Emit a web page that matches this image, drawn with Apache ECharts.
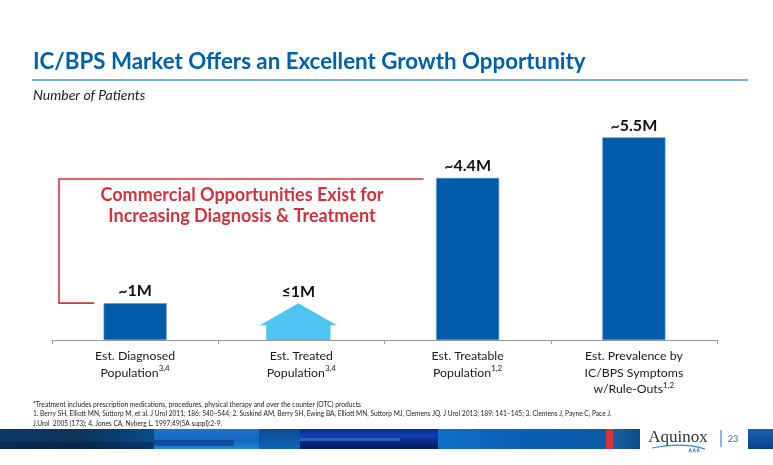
<!DOCTYPE html>
<html><head><meta charset="utf-8">
<script src="https://cdn.jsdelivr.net/npm/echarts@6/dist/echarts.min.js"></script>
<style>html,body{margin:0;padding:0;background:#fff}#c{width:773px;height:465px}</style>
</head><body><div id="c"></div>
<script>
const categories = ['Est. Diagnosed\nPopulation', 'Est. Treated\nPopulation', 'Est. Treatable\nPopulation', 'Est. Prevalence by\nIC/BPS Symptoms\nw/Rule-Outs'];
const superscripts = ['3,4', '3,4', '1,2', '1,2'];
const barValues = [1, null, 4.4, 5.5];
const arrowValues = [null, 1, null, null];
const valueLabels = ['~1M', '≤1M', '~4.4M', '~5.5M'];
const footnotes = [
  '*Treatment includes prescription medications, procedures, physical therapy and over the counter (OTC) products',
  '1. Berry SH, Elliott MN, Suttorp M, et al. J Urol 2011; 186: 540\u2013544; 2. Suskind AM, Berry SH, Ewing BA, Elliott MN, Suttorp MJ, Clemens JQ. J Urol 2013; 189: 141\u2013145; 3. Clemens J, Payne C, Pace J.',
  'J.Urol  2005 (173); 4. Jones CA, Nyberg L. 1997;49(5A suppl):2-9.'
];

const FONT = 'Lato, "Open Sans", sans-serif';
const LABEL_FONT = 'bold 16px ' + FONT;
const chart = echarts.init(document.getElementById('c'), null, {renderer: 'canvas'});

const option = {
  animation: false,
  backgroundColor: '#fff',
  grid: {left: 52, right: 56, top: 119, bottom: 125, containLabel: false},
  xAxis: {
    type: 'category',
    data: categories.map((c, i) => c + '{sup|' + superscripts[i] + '}'),
    axisLine: {lineStyle: {color: '#9a9a9a', width: 1}},
    axisTick: {show: true, length: 4, lineStyle: {color: '#9a9a9a'}, alignWithLabel: false},
    axisLabel: {
      interval: 0, margin: 8, color: '#1a1a1a', fontFamily: FONT, fontSize: 12.3, lineHeight: 16.5,
      formatter: v => v,
      rich: {sup: {fontSize: 8, fontFamily: FONT, color: '#1a1a1a', verticalAlign: 'top', lineHeight: 16.5, padding: [0, 0, 4, 0]}}
    }
  },
  yAxis: {type: 'value', min: 0, max: 6, show: false, splitLine: {show: false}},
  series: [
    {
      type: 'bar', data: barValues, barWidth: 63, barGap: '-100%',
      itemStyle: {color: '#005CAB', borderColor: '#4a90d0', borderWidth: 0.6},
      label: {show: true, position: 'top', distance: 4, color: '#111', fontFamily: FONT, fontWeight: 'bold', fontSize: 16,
        formatter: p => valueLabels[p.dataIndex]}
    },
    {
      type: 'custom', data: arrowValues.map((v, i) => [i, v]),
      renderItem: (params, api) => {
        const v = api.value(1);
        if (v == null || isNaN(v)) return null;
        const idx = api.value(0);
        const base = api.coord([idx, 0]);
        const top = api.coord([idx, v]);
        const bw = api.size([1, 0])[0];
        const cx = base[0] - 3;
        const hw = bw * 0.232, bodyw = bw * 0.193;
        const sh = top[1] + 22;
        return {
          type: 'group',
          children: [
            {
              type: 'polygon',
              shape: {points: [[cx - bodyw, base[1]], [cx - bodyw, sh], [cx - hw, sh], [cx, top[1]], [cx + hw, sh], [cx + bodyw, sh], [cx + bodyw, base[1]]]},
              style: {fill: '#4FC4F2'}
            },
            {
              type: 'text',
              style: {text: valueLabels[params.dataIndex], x: cx, y: top[1] - 3, fill: '#111', font: LABEL_FONT, align: 'center', verticalAlign: 'bottom'}
            }
          ]
        };
      },
      encode: {x: 0, y: 1}
    }
  ]
};
chart.setOption(option);

const bar1Top = chart.convertToPixel({xAxisIndex: 0, yAxisIndex: 0}, [0, barValues[0]]);
const bar3Top = chart.convertToPixel({xAxisIndex: 0, yAxisIndex: 0}, [2, barValues[2]]);

const g = [];
// title
g.push({type: 'text', left: 33, top: 51, style: {text: 'IC/BPS Market Offers an Excellent Growth Opportunity', fill: '#0061AB', font: 'bold 22.3px ' + FONT}});
g.push({type: 'line', shape: {x1: 32, y1: 80, x2: 748, y2: 80}, style: {stroke: '#4B8FD5', lineWidth: 1.6}});
g.push({type: 'text', left: 33, top: 88, style: {text: 'Number of Patients', fill: '#222', font: 'italic 14px ' + FONT}});
// bracket
g.push({type: 'polyline', shape: {points: [[bar1Top[0] - 41, bar1Top[1]], [59, bar1Top[1]], [59, 179], [bar3Top[0] - 44, 179]]}, style: {stroke: '#D2343E', lineWidth: 1.6, fill: null}});
g.push({type: 'text', x: 242, y: 195, style: {text: 'Commercial Opportunities Exist for', fill: '#D2343E', font: 'bold 18px ' + FONT, align: 'center', verticalAlign: 'middle'}});
g.push({type: 'text', x: 242, y: 216, style: {text: 'Increasing Diagnosis & Treatment', fill: '#D2343E', font: 'bold 18px ' + FONT, align: 'center', verticalAlign: 'middle'}});
// footnotes
footnotes.forEach((t, i) => {
  g.push({type: 'text', left: 33, top: 401 + i * 9.5, style: {text: t, fill: '#222', font: (i === 0 ? '6.7px ' : '6.6px ') + FONT}});
});
// bottom banner
const bt = 429, bh = 20;
function grad(stops, horiz) {
  return new echarts.graphic.LinearGradient(0, 0, horiz ? 1 : 0, horiz ? 0 : 1, stops);
}
g.push({type: 'rect', shape: {x: 0, y: bt, width: 155, height: bh}, style: {fill: grad([{offset: 0, color: '#0b3a66'}, {offset: 0.5, color: '#0c3358'}, {offset: 1, color: '#0a4a8c'}], true)}});
g.push({type: 'rect', shape: {x: 0, y: bt + 13, width: 155, height: 7}, style: {fill: 'rgba(0,20,50,0.35)'}});
g.push({type: 'rect', shape: {x: 154, y: bt, width: 106, height: bh}, style: {fill: grad([{offset: 0, color: '#1a74cf'}, {offset: 0.6, color: '#1465bb'}, {offset: 1, color: '#2088e0'}], false)}});
g.push({type: 'rect', shape: {x: 154, y: bt + 11, width: 80, height: 6}, style: {fill: 'rgba(10,40,100,0.45)'}});
g.push({type: 'rect', shape: {x: 259, y: bt, width: 41, height: bh}, style: {fill: grad([{offset: 0, color: '#0c4c92'}, {offset: 1, color: '#0c62b2'}], false)}});
g.push({type: 'rect', shape: {x: 300, y: bt, width: 139, height: bh}, style: {fill: grad([{offset: 0, color: '#082b8f'}, {offset: 0.35, color: '#1040b0'}, {offset: 0.6, color: '#0a2a8a'}, {offset: 1, color: '#061a5e'}], false)}});
g.push({type: 'rect', shape: {x: 300, y: bt + 9, width: 100, height: 3}, style: {fill: 'rgba(80,140,230,0.5)'}});
g.push({type: 'rect', shape: {x: 438, y: bt, width: 168, height: bh}, style: {fill: grad([{offset: 0, color: '#0f6fc8'}, {offset: 0.5, color: '#0a5fb4'}, {offset: 1, color: '#0c5aa8'}], true)}});
g.push({type: 'rect', shape: {x: 606, y: bt, width: 7, height: bh}, style: {fill: '#D7333D'}});
g.push({type: 'rect', shape: {x: 613, y: bt, width: 27, height: bh}, style: {fill: grad([{offset: 0, color: '#1b5f9e'}, {offset: 1, color: '#0d4c8a'}], true)}});
g.push({type: 'rect', shape: {x: 748, y: bt, width: 25, height: bh}, style: {fill: grad([{offset: 0, color: '#1a64b6'}, {offset: 1, color: '#0b3e84'}], false)}});
// logo
g.push({type: 'text', x: 678, y: 438, style: {text: 'Aquinox', fill: '#333', font: '17px "Liberation Serif", serif', align: 'center', verticalAlign: 'middle'}});
g.push({type: 'bezierCurve', shape: {x1: 652, y1: 448, x2: 705, y2: 449, cpx1: 672, cpy1: 444, cpx2: 690, cpy2: 444}, style: {stroke: '#2c8ad8', lineWidth: 1.2, fill: null}});
g.push({type: 'text', x: 694, y: 450, style: {text: '\u2227\u2227\u2227', fill: '#1f68b8', font: 'bold 6px ' + FONT, align: 'center', verticalAlign: 'middle'}});
g.push({type: 'line', shape: {x1: 721, y1: 430, x2: 721, y2: 447}, style: {stroke: '#1f6fc0', lineWidth: 1}});
g.push({type: 'text', x: 733, y: 439, style: {text: '23', fill: '#1f6fc0', font: '9px ' + FONT, align: 'center', verticalAlign: 'middle'}});
chart.setOption({graphic: g});
</script></body></html>
